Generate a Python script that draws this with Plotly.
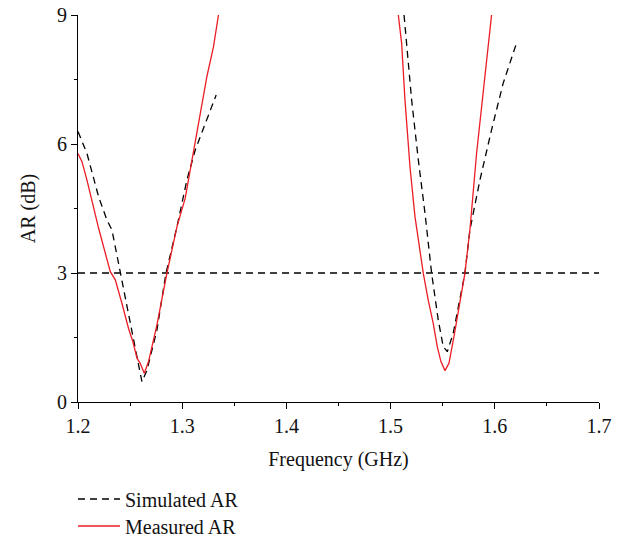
import plotly.graph_objects as go

# Simulated axial ratio (dB) vs frequency (GHz), lower band
sim_f_low = [1.2, 1.2086, 1.2198, 1.2278, 1.2326, 1.2406, 1.2485, 1.2566, 1.2614,
             1.2662, 1.2757, 1.2844, 1.295, 1.3045, 1.3125, 1.3237, 1.3326]
sim_ar_low = [6.29, 5.78, 4.77, 4.23, 4.0, 2.99, 1.98, 1.05, 0.47,
              0.74, 1.67, 2.99, 4.08, 5.16, 5.86, 6.56, 7.14]

# Simulated axial ratio, upper band
sim_f_high = [1.5129, 1.5202, 1.5266, 1.533, 1.5394, 1.5457, 1.5505, 1.5544, 1.5601,
              1.5665, 1.5713, 1.5761, 1.5857, 1.5969, 1.608, 1.6202]
sim_ar_high = [9.0, 7.02, 5.63, 4.39, 2.99, 1.91, 1.29, 1.17, 1.60,
               2.37, 2.99, 4.0, 5.16, 6.33, 7.41, 8.30]

# Measured axial ratio, lower band
meas_f_low = [1.2, 1.2038, 1.2086, 1.2198, 1.231, 1.2358, 1.2422, 1.2485, 1.2527, 1.2566,
              1.2597, 1.2636, 1.2677, 1.2757, 1.2853, 1.295, 1.3029, 1.3093, 1.3173,
              1.3237, 1.330, 1.3348]
meas_ar_low = [5.78, 5.59, 5.16, 4.04, 3.03, 2.84, 2.29, 1.71, 1.40, 1.02,
               0.90, 0.67, 0.94, 1.79, 2.99, 4.08, 4.74, 5.63, 6.71,
               7.57, 8.26, 9.0]

# Measured axial ratio, upper band
meas_f_high = [1.5074, 1.5106, 1.5138, 1.5186, 1.5234, 1.5282, 1.5314, 1.5361, 1.5409,
               1.5448, 1.5483, 1.5522, 1.556, 1.5608, 1.5665, 1.5713, 1.5761, 1.5825,
               1.5905, 1.5969]
meas_ar_high = [9.0, 8.34, 7.02, 5.47, 4.31, 3.53, 2.99, 2.37, 1.83,
                1.29, 0.94, 0.73, 0.90, 1.52, 2.37, 2.99, 4.0, 5.78,
                7.57, 9.0]

# 3 dB axial-ratio threshold
ref_f = [1.2, 1.7]
ref_ar = [3, 3]

x_ticks = [1.2, 1.3, 1.4, 1.5, 1.6, 1.7]
y_ticks = [0, 3, 6, 9]

FONT = "Liberation Serif"
TXT = "#111"
RED = "#ec1c24"
DASH = "7px,5px"

sim_f = sim_f_low + [None] + sim_f_high
sim_ar = sim_ar_low + [None] + sim_ar_high
meas_f = meas_f_low + [None] + meas_f_high
meas_ar = meas_ar_low + [None] + meas_ar_high

fig = go.Figure()
fig.add_trace(go.Scatter(x=ref_f, y=ref_ar, mode="lines", showlegend=False,
                         line=dict(color="black", width=1.4, dash=DASH)))
fig.add_trace(go.Scatter(x=sim_f, y=sim_ar, mode="lines", name="Simulated AR",
                         legend="legend",
                         line=dict(color="black", width=1.3, dash=DASH)))
fig.add_trace(go.Scatter(x=meas_f, y=meas_ar, mode="lines", name="Measured AR",
                         legend="legend2",
                         line=dict(color=RED, width=1.3)))

axis_common = dict(showline=True, linecolor="black", linewidth=1.2, showgrid=False,
                   zeroline=False, ticks="outside", ticklen=6, tickwidth=1.2,
                   tickcolor="black", tickfont=dict(family=FONT, size=20, color=TXT))

fig.update_xaxes(range=[1.2, 1.7], tickvals=x_ticks, tickformat=".1f",
                 minor=dict(ticks="outside", dtick=0.05, ticklen=3, tickwidth=1.2,
                            tickcolor="black"),
                 title=dict(text="Frequency (GHz)", font=dict(family=FONT, size=20, color=TXT)),
                 **axis_common)
fig.update_yaxes(range=[0, 9], tickvals=y_ticks,
                 minor=dict(ticks="outside", dtick=1.5, ticklen=3, tickwidth=1.2,
                            tickcolor="black"),
                 title=dict(text="AR (dB)", font=dict(family=FONT, size=20, color=TXT)),
                 **axis_common)

# Plot area in pixels, used to place the two legend rows below the axes
M_L, M_R, M_T, M_B = 78, 27, 15, 136
W, H = 626, 538
plot_w = W - M_L - M_R
plot_h = H - M_T - M_B


def paper_x(px):
    return (px - M_L) / plot_w


def paper_y(py):
    return (H - M_B - py) / plot_h


legend_style = dict(x=paper_x(73), xanchor="left", yanchor="middle",
                    bgcolor="rgba(0,0,0,0)",
                    font=dict(family=FONT, size=20, color=TXT), itemwidth=42)

fig.update_layout(
    width=W, height=H,
    margin=dict(l=M_L, r=M_R, t=M_T, b=M_B, autoexpand=False),
    plot_bgcolor="white", paper_bgcolor="white",
    font=dict(family=FONT, size=20, color=TXT),
    legend=dict(y=paper_y(499), **legend_style),
    legend2=dict(y=paper_y(526), **legend_style),
)

fig.write_html("out.html")
